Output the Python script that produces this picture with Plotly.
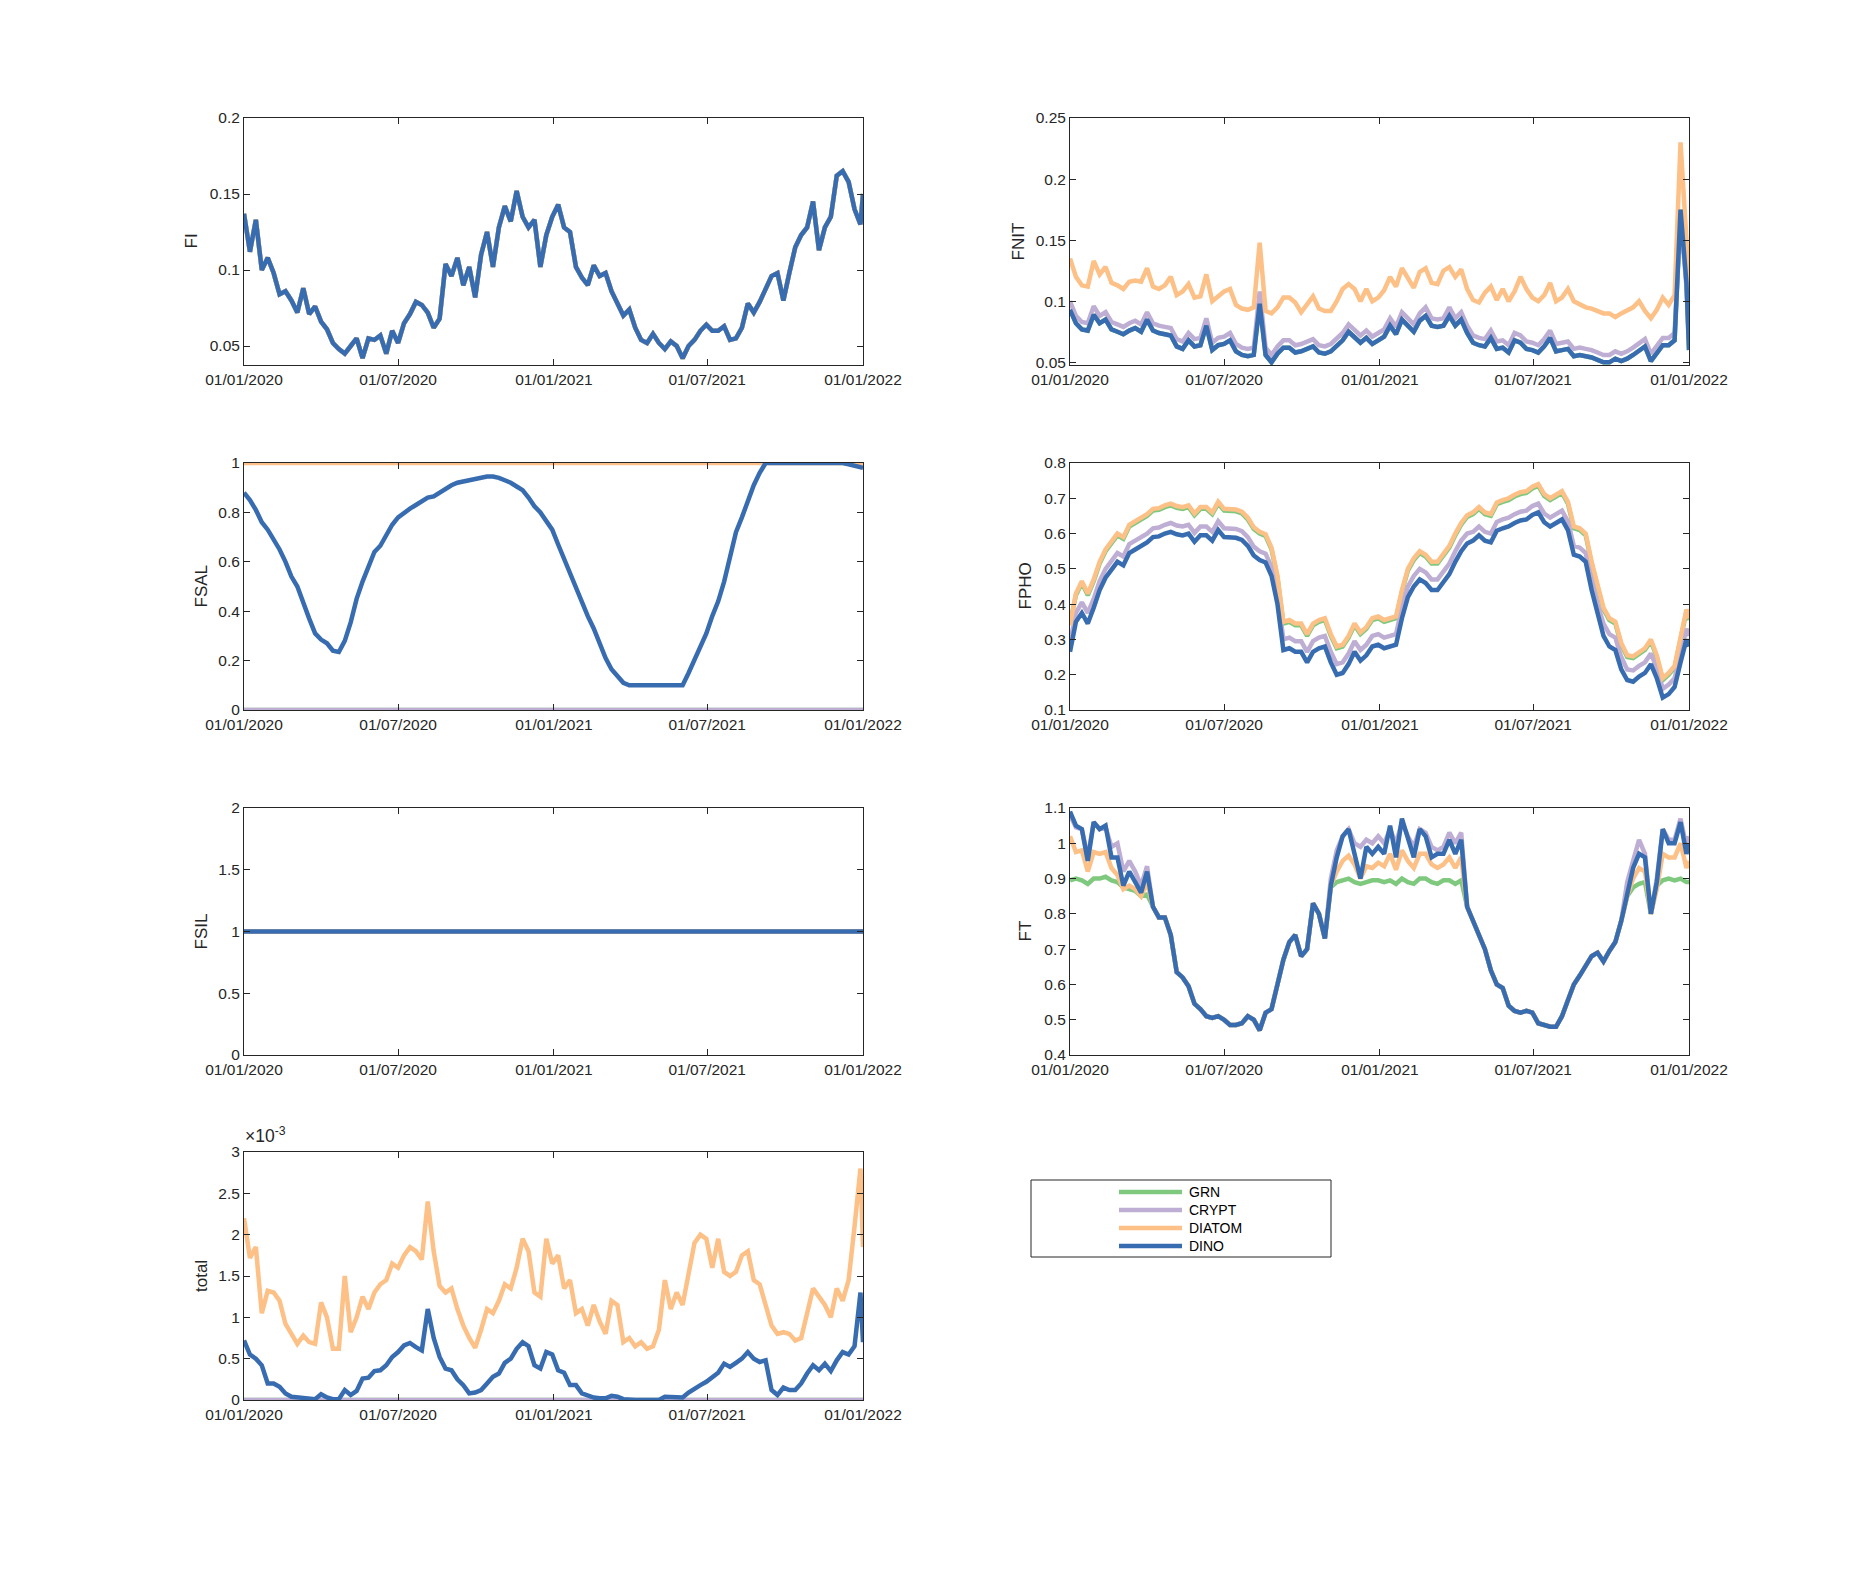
import pandas as pd
import plotly.graph_objects as go

# ---------------- data ----------------
dates = list(pd.date_range("2020-01-01", periods=105, freq="7D")) + [pd.Timestamp("2022-01-01")]

series_names = ["GRN", "CRYPT", "DIATOM", "DINO"]
series_colors = ["#7fc97f", "#beaed4", "#fdc086", "#386cb0"]

x_tick_vals = ["2020-01-01", "2020-07-01", "2021-01-01", "2021-07-01", "2022-01-01"]
x_tick_text = ["01/01/2020", "01/07/2020", "01/01/2021", "01/07/2021", "01/01/2022"]

# FI (identical for all groups; DINO drawn on top)
fi_dino = [0.137, 0.112, 0.133, 0.100, 0.108, 0.098, 0.084, 0.086, 0.080, 0.072,
           0.088, 0.071, 0.076, 0.066, 0.061, 0.052, 0.048, 0.045, 0.050, 0.055,
           0.042, 0.055, 0.054, 0.057, 0.045, 0.060, 0.052, 0.065, 0.071, 0.079,
           0.077, 0.072, 0.062, 0.068, 0.104, 0.096, 0.108, 0.090, 0.102, 0.082,
           0.110, 0.125, 0.102, 0.128, 0.142, 0.132, 0.152, 0.135, 0.128, 0.133,
           0.102, 0.123, 0.135, 0.143, 0.128, 0.125, 0.102, 0.095, 0.090, 0.103,
           0.096, 0.098, 0.086, 0.078, 0.070, 0.074, 0.062, 0.054, 0.052, 0.058,
           0.052, 0.048, 0.053, 0.050, 0.042, 0.050, 0.054, 0.060, 0.064, 0.060,
           0.060, 0.063, 0.054, 0.055, 0.062, 0.078, 0.072, 0.079, 0.088, 0.096,
           0.098, 0.080, 0.098, 0.115, 0.123, 0.128, 0.145, 0.113, 0.128, 0.135,
           0.162, 0.165, 0.158, 0.140, 0.130, 0.150]

# FNIT
fnit_diatom = [0.135, 0.120, 0.113, 0.112, 0.133, 0.122, 0.128, 0.115, 0.113, 0.110,
               0.116, 0.117, 0.116, 0.127, 0.112, 0.110, 0.113, 0.120, 0.105, 0.108,
               0.114, 0.103, 0.104, 0.122, 0.100, 0.104, 0.108, 0.110, 0.097, 0.094,
               0.093, 0.095, 0.148, 0.092, 0.090, 0.095, 0.103, 0.103, 0.099, 0.091,
               0.098, 0.104, 0.094, 0.092, 0.092, 0.100, 0.110, 0.114, 0.110, 0.100,
               0.110, 0.100, 0.103, 0.109, 0.120, 0.112, 0.127, 0.119, 0.111, 0.124,
               0.127, 0.115, 0.114, 0.125, 0.128, 0.120, 0.126, 0.110, 0.101, 0.099,
               0.107, 0.112, 0.101, 0.110, 0.100, 0.108, 0.120, 0.110, 0.103, 0.100,
               0.105, 0.115, 0.100, 0.103, 0.110, 0.100, 0.097, 0.095, 0.094, 0.092,
               0.090, 0.090, 0.087, 0.090, 0.093, 0.095, 0.100, 0.092, 0.086, 0.093,
               0.103, 0.097, 0.105, 0.230, 0.150, 0.098]
fnit_dino = [0.093, 0.082, 0.077, 0.076, 0.089, 0.082, 0.085, 0.077, 0.075, 0.073,
             0.076, 0.078, 0.075, 0.085, 0.076, 0.074, 0.073, 0.072, 0.063, 0.061,
             0.068, 0.063, 0.064, 0.080, 0.060, 0.064, 0.065, 0.068, 0.059, 0.056,
             0.055, 0.056, 0.098, 0.056, 0.050, 0.057, 0.062, 0.062, 0.058, 0.059,
             0.061, 0.063, 0.058, 0.057, 0.059, 0.063, 0.068, 0.075, 0.071, 0.066,
             0.070, 0.065, 0.068, 0.071, 0.080, 0.073, 0.085, 0.080, 0.075, 0.084,
             0.088, 0.080, 0.079, 0.080, 0.088, 0.080, 0.085, 0.074, 0.066, 0.064,
             0.063, 0.070, 0.061, 0.062, 0.058, 0.068, 0.066, 0.061, 0.060, 0.058,
             0.063, 0.070, 0.059, 0.060, 0.061, 0.055, 0.056, 0.055, 0.054, 0.052,
             0.050, 0.050, 0.053, 0.051, 0.053, 0.056, 0.060, 0.063, 0.051, 0.058,
             0.064, 0.064, 0.068, 0.175, 0.115, 0.060]
fnit_crypt = [0.100, 0.088, 0.083, 0.082, 0.096, 0.088, 0.091, 0.083, 0.081, 0.079,
              0.082, 0.084, 0.081, 0.091, 0.082, 0.080, 0.079, 0.078, 0.069, 0.067,
              0.074, 0.069, 0.070, 0.086, 0.066, 0.070, 0.071, 0.074, 0.065, 0.062,
              0.061, 0.062, 0.108, 0.062, 0.056, 0.063, 0.068, 0.068, 0.064, 0.065,
              0.067, 0.069, 0.064, 0.063, 0.065, 0.069, 0.074, 0.081, 0.077, 0.072,
              0.076, 0.071, 0.074, 0.077, 0.086, 0.079, 0.091, 0.086, 0.081, 0.090,
              0.095, 0.086, 0.085, 0.086, 0.095, 0.086, 0.091, 0.080, 0.072, 0.070,
              0.069, 0.076, 0.067, 0.068, 0.064, 0.074, 0.072, 0.067, 0.066, 0.064,
              0.069, 0.076, 0.065, 0.066, 0.067, 0.061, 0.062, 0.061, 0.060, 0.058,
              0.056, 0.056, 0.059, 0.057, 0.059, 0.062, 0.066, 0.069, 0.057, 0.064,
              0.070, 0.070, 0.074, 0.170, 0.112, 0.068]

# FSAL
fsal_grn_value = 0.0
fsal_crypt_value = 0.0
fsal_diatom_value = 1.0
fsal_dino = [0.88, 0.85, 0.81, 0.76, 0.73, 0.69, 0.65, 0.60, 0.54, 0.50,
             0.43, 0.37, 0.31, 0.285, 0.27, 0.24, 0.235, 0.28, 0.355, 0.45,
             0.52, 0.58, 0.64, 0.665, 0.71, 0.75, 0.78, 0.80, 0.815, 0.83,
             0.845, 0.86, 0.865, 0.88, 0.90, 0.91, 0.92, 0.925, 0.93, 0.935,
             0.94, 0.945, 0.945, 0.94, 0.93, 0.92, 0.905, 0.89, 0.86, 0.825,
             0.80, 0.765, 0.73, 0.67, 0.61, 0.56, 0.50, 0.44, 0.38, 0.33,
             0.27, 0.21, 0.165, 0.14, 0.11, 0.10, 0.10, 0.10, 0.10, 0.10,
             0.10, 0.10, 0.10, 0.10, 0.10, 0.15, 0.20, 0.25, 0.31, 0.38,
             0.44, 0.52, 0.62, 0.72, 0.78, 0.85, 0.91, 0.96, 1.0, 1.0,
             1.0, 1.0, 1.0, 1.0, 1.0, 1.0, 1.0, 1.0, 1.0, 1.0,
             1.0, 1.0, 0.995, 0.99, 0.985, 0.98]

# FPHO
fpho_diatom = [0.34, 0.43, 0.465, 0.43, 0.47, 0.52, 0.555, 0.58, 0.60, 0.59,
               0.625, 0.635, 0.645, 0.655, 0.67, 0.672, 0.68, 0.685, 0.678, 0.675,
               0.68, 0.657, 0.675, 0.675, 0.66, 0.69, 0.67, 0.668, 0.668, 0.662,
               0.645, 0.618, 0.605, 0.598, 0.56, 0.48, 0.35, 0.355, 0.345, 0.345,
               0.315, 0.345, 0.355, 0.36, 0.315, 0.28, 0.285, 0.31, 0.345, 0.32,
               0.335, 0.36, 0.365, 0.355, 0.36, 0.365, 0.44, 0.50, 0.53, 0.55,
               0.54, 0.52, 0.52, 0.545, 0.565, 0.60, 0.63, 0.652, 0.66, 0.675,
               0.66, 0.655, 0.688, 0.695, 0.70, 0.71, 0.717, 0.72, 0.733, 0.74,
               0.712, 0.70, 0.71, 0.72, 0.69, 0.62, 0.615, 0.60, 0.52, 0.45,
               0.39, 0.36, 0.35, 0.29, 0.255, 0.252, 0.265, 0.275, 0.30, 0.255,
               0.19, 0.205, 0.225, 0.30, 0.385, 0.36]
fpho_grn = [0.345, 0.425, 0.46, 0.425, 0.465, 0.515, 0.55, 0.575, 0.595, 0.585,
            0.62, 0.63, 0.64, 0.65, 0.665, 0.667, 0.675, 0.68, 0.673, 0.67,
            0.675, 0.652, 0.67, 0.67, 0.655, 0.685, 0.665, 0.663, 0.663, 0.657,
            0.64, 0.613, 0.60, 0.593, 0.555, 0.475, 0.345, 0.35, 0.34, 0.34,
            0.31, 0.34, 0.35, 0.355, 0.31, 0.275, 0.28, 0.305, 0.34, 0.315,
            0.33, 0.355, 0.36, 0.35, 0.355, 0.36, 0.435, 0.495, 0.525, 0.545,
            0.535, 0.515, 0.515, 0.54, 0.56, 0.595, 0.625, 0.647, 0.655, 0.67,
            0.655, 0.65, 0.683, 0.69, 0.695, 0.705, 0.712, 0.715, 0.728, 0.735,
            0.707, 0.695, 0.705, 0.715, 0.685, 0.615, 0.61, 0.595, 0.515, 0.445,
            0.385, 0.355, 0.345, 0.285, 0.25, 0.247, 0.26, 0.27, 0.295, 0.25,
            0.185, 0.20, 0.22, 0.295, 0.38, 0.355]
fpho_crypt = [0.29, 0.375, 0.405, 0.375, 0.415, 0.465, 0.50, 0.525, 0.545, 0.535,
              0.57, 0.58, 0.59, 0.60, 0.615, 0.617, 0.625, 0.63, 0.623, 0.62,
              0.625, 0.602, 0.62, 0.62, 0.605, 0.635, 0.615, 0.613, 0.613, 0.607,
              0.59, 0.563, 0.55, 0.543, 0.505, 0.43, 0.30, 0.305, 0.295, 0.295,
              0.265, 0.295, 0.305, 0.31, 0.265, 0.23, 0.235, 0.26, 0.295, 0.27,
              0.285, 0.31, 0.315, 0.305, 0.31, 0.315, 0.39, 0.45, 0.48, 0.50,
              0.49, 0.47, 0.47, 0.495, 0.515, 0.55, 0.58, 0.60, 0.605, 0.62,
              0.605, 0.60, 0.633, 0.64, 0.645, 0.655, 0.662, 0.665, 0.678, 0.685,
              0.657, 0.645, 0.655, 0.665, 0.635, 0.565, 0.56, 0.545, 0.47, 0.40,
              0.345, 0.315, 0.305, 0.25, 0.215, 0.212, 0.225, 0.235, 0.26, 0.22,
              0.16, 0.172, 0.19, 0.26, 0.33, 0.31]
fpho_dino = [0.265, 0.35, 0.375, 0.345, 0.39, 0.44, 0.475, 0.50, 0.52, 0.51,
             0.545, 0.555, 0.565, 0.575, 0.59, 0.592, 0.60, 0.605, 0.598, 0.595,
             0.60, 0.577, 0.595, 0.595, 0.58, 0.61, 0.59, 0.588, 0.588, 0.582,
             0.565, 0.538, 0.525, 0.518, 0.48, 0.40, 0.27, 0.275, 0.265, 0.265,
             0.235, 0.265, 0.275, 0.28, 0.235, 0.20, 0.205, 0.23, 0.265, 0.24,
             0.255, 0.28, 0.285, 0.275, 0.28, 0.285, 0.36, 0.42, 0.45, 0.47,
             0.46, 0.44, 0.44, 0.465, 0.485, 0.52, 0.55, 0.572, 0.58, 0.595,
             0.58, 0.575, 0.608, 0.615, 0.62, 0.63, 0.637, 0.64, 0.653, 0.66,
             0.632, 0.62, 0.63, 0.64, 0.61, 0.54, 0.535, 0.52, 0.44, 0.37,
             0.31, 0.28, 0.27, 0.215, 0.185, 0.18, 0.195, 0.205, 0.23, 0.19,
             0.135, 0.145, 0.165, 0.235, 0.30, 0.28]

# FSIL (all groups equal to 1)
fsil_value = 1.0

# FT
ft_dino = [1.09, 1.05, 1.04, 0.95, 1.06, 1.04, 1.05, 0.96, 0.96, 0.88,
           0.92, 0.89, 0.86, 0.92, 0.82, 0.79, 0.79, 0.74, 0.635, 0.62,
           0.595, 0.545, 0.53, 0.51, 0.505, 0.51, 0.50, 0.485, 0.485, 0.49,
           0.51, 0.50, 0.47, 0.52, 0.53, 0.60, 0.67, 0.72, 0.74, 0.68,
           0.70, 0.83, 0.80, 0.73, 0.88, 0.96, 1.02, 1.04, 0.97, 0.90,
           0.99, 0.97, 0.99, 0.97, 1.05, 0.96, 1.07, 1.01, 0.96, 1.04,
           1.02, 0.96, 0.97, 0.97, 1.01, 0.97, 1.01, 0.82, 0.78, 0.74,
           0.70, 0.64, 0.60, 0.59, 0.54, 0.525, 0.52, 0.525, 0.52, 0.49,
           0.485, 0.48, 0.48, 0.51, 0.555, 0.60, 0.625, 0.65, 0.68, 0.69,
           0.665, 0.695, 0.72, 0.78, 0.85, 0.93, 0.97, 0.96, 0.80, 0.89,
           1.04, 1.00, 1.00, 1.06, 0.97, 1.00]
ft_diatom = [1.02, 0.975, 0.98, 0.92, 0.975, 0.97, 0.975, 0.93, 0.91, 0.87,
             0.88, 0.87, 0.85, 0.89, 0.82, 0.79, 0.79, 0.74, 0.635, 0.62,
             0.595, 0.545, 0.53, 0.51, 0.505, 0.51, 0.50, 0.485, 0.485, 0.49,
             0.51, 0.50, 0.47, 0.52, 0.53, 0.60, 0.67, 0.72, 0.74, 0.68,
             0.70, 0.83, 0.80, 0.73, 0.88, 0.92, 0.95, 0.965, 0.94, 0.90,
             0.935, 0.93, 0.945, 0.935, 0.97, 0.925, 0.98, 0.95, 0.93, 0.97,
             0.97, 0.94, 0.93, 0.94, 0.96, 0.93, 0.96, 0.82, 0.78, 0.74,
             0.70, 0.64, 0.60, 0.59, 0.54, 0.525, 0.52, 0.525, 0.52, 0.49,
             0.485, 0.48, 0.48, 0.51, 0.555, 0.60, 0.625, 0.65, 0.68, 0.69,
             0.665, 0.695, 0.72, 0.78, 0.85, 0.90, 0.93, 0.92, 0.80, 0.87,
             0.97, 0.96, 0.96, 1.00, 0.93, 0.95]
ft_crypt = [1.08, 1.045, 1.04, 0.96, 1.06, 1.04, 1.045, 0.99, 1.0, 0.92,
            0.95, 0.92, 0.88, 0.935, 0.82, 0.79, 0.79, 0.74, 0.635, 0.62,
            0.595, 0.545, 0.53, 0.51, 0.505, 0.51, 0.50, 0.485, 0.485, 0.49,
            0.51, 0.50, 0.47, 0.52, 0.53, 0.60, 0.67, 0.72, 0.74, 0.68,
            0.70, 0.83, 0.80, 0.73, 0.90, 0.98, 1.02, 1.04, 1.0, 0.99,
            1.01, 1.0, 1.02, 1.0, 1.04, 1.0, 1.06, 1.02, 0.99, 1.04,
            1.03, 0.99, 0.98, 0.99, 1.03, 1.0, 1.03, 0.82, 0.78, 0.74,
            0.70, 0.64, 0.60, 0.59, 0.54, 0.525, 0.52, 0.525, 0.52, 0.49,
            0.485, 0.48, 0.48, 0.51, 0.555, 0.60, 0.625, 0.65, 0.68, 0.69,
            0.665, 0.695, 0.72, 0.78, 0.89, 0.95, 1.01, 0.97, 0.80, 0.90,
            1.04, 1.01, 1.01, 1.07, 0.99, 1.02]
ft_grn = [0.895, 0.90, 0.895, 0.885, 0.90, 0.90, 0.905, 0.895, 0.89, 0.875,
          0.87, 0.865, 0.85, 0.855, 0.82, 0.79, 0.79, 0.74, 0.635, 0.62,
          0.595, 0.545, 0.53, 0.51, 0.505, 0.51, 0.50, 0.485, 0.485, 0.49,
          0.51, 0.50, 0.47, 0.52, 0.53, 0.60, 0.67, 0.72, 0.74, 0.68,
          0.70, 0.83, 0.80, 0.73, 0.875, 0.89, 0.895, 0.90, 0.89, 0.885,
          0.89, 0.895, 0.895, 0.89, 0.895, 0.885, 0.90, 0.89, 0.885, 0.90,
          0.90, 0.89, 0.885, 0.895, 0.895, 0.885, 0.895, 0.82, 0.78, 0.74,
          0.70, 0.64, 0.60, 0.59, 0.54, 0.525, 0.52, 0.525, 0.52, 0.49,
          0.485, 0.48, 0.48, 0.51, 0.555, 0.60, 0.625, 0.65, 0.68, 0.69,
          0.665, 0.695, 0.72, 0.78, 0.85, 0.875, 0.885, 0.89, 0.80, 0.88,
          0.895, 0.90, 0.895, 0.90, 0.89, 0.89]

# total (values in units of 1e-3)
total_diatom_e3 = [2.2, 1.72, 1.85, 1.05, 1.32, 1.3, 1.2, 0.92, 0.80, 0.68,
                   0.78, 0.70, 0.68, 1.18, 1.0, 0.62, 0.62, 1.5, 0.82, 1.0,
                   1.25, 1.1, 1.3, 1.4, 1.45, 1.65, 1.6, 1.75, 1.85, 1.8,
                   1.7, 2.4, 1.8, 1.38, 1.3, 1.35, 1.1, 0.9, 0.75, 0.63,
                   0.85, 1.1, 1.05, 1.2, 1.4, 1.35, 1.6, 1.95, 1.8, 1.3,
                   1.25, 1.95, 1.65, 1.75, 1.35, 1.45, 1.05, 1.1, 0.9, 1.15,
                   0.95, 0.8, 1.2, 1.15, 0.7, 0.75, 0.65, 0.70, 0.62, 0.65,
                   0.85, 1.45, 1.1, 1.3, 1.15, 1.5, 1.9, 2.0, 1.95, 1.6,
                   1.95, 1.55, 1.5, 1.55, 1.75, 1.8, 1.45, 1.4, 1.15, 0.9,
                   0.8, 0.82, 0.8, 0.72, 0.75, 1.05, 1.35, 1.25, 1.15, 1.0,
                   1.35, 1.2, 1.45, 2.1, 2.8, 1.85]
total_dino_e3 = [0.72, 0.55, 0.50, 0.42, 0.20, 0.20, 0.16, 0.08, 0.04, 0.03,
                 0.02, 0.02, 0.01, 0.07, 0.03, 0.01, 0.01, 0.12, 0.06, 0.11,
                 0.26, 0.27, 0.35, 0.36, 0.42, 0.52, 0.58, 0.66, 0.69, 0.64,
                 0.60, 1.1, 0.75, 0.52, 0.38, 0.36, 0.25, 0.18, 0.08, 0.09,
                 0.12, 0.2, 0.28, 0.32, 0.45, 0.5, 0.62, 0.7, 0.65, 0.42,
                 0.38, 0.58, 0.55, 0.36, 0.33, 0.18, 0.18, 0.08, 0.05, 0.03,
                 0.02, 0.02, 0.05, 0.04, 0.01, 0.0, 0.0, 0.0, 0.0, 0.0,
                 0.0, 0.04, 0.04, 0.03, 0.03, 0.09, 0.14, 0.18, 0.22, 0.27,
                 0.33, 0.44, 0.40, 0.45, 0.5, 0.58, 0.5, 0.46, 0.48, 0.12,
                 0.06, 0.15, 0.12, 0.12, 0.2, 0.32, 0.42, 0.36, 0.44, 0.35,
                 0.48, 0.58, 0.55, 0.65, 1.3, 0.7]
total_grn_value = 0.0
total_crypt_value = 0.0

# y-axis ticks per panel
fi_ticks = [0.05, 0.1, 0.15, 0.2]
fnit_ticks = [0.05, 0.1, 0.15, 0.2, 0.25]
fsal_ticks = [0, 0.2, 0.4, 0.6, 0.8, 1]
fpho_ticks = [0.1, 0.2, 0.3, 0.4, 0.5, 0.6, 0.7, 0.8]
fsil_ticks = [0, 0.5, 1, 1.5, 2]
ft_ticks = [0.4, 0.5, 0.6, 0.7, 0.8, 0.9, 1, 1.1]
total_ticks = [0, 0.5, 1, 1.5, 2, 2.5, 3]

N = len(dates)
const = lambda v: [v] * N

panels = [
    dict(label="FI", col=0, row=0, yrange=[0.0375, 0.2], ticks=fi_ticks, title_x=191,
         series=[fi_dino, fi_dino, fi_dino, fi_dino]),
    dict(label="FNIT", col=1, row=0, yrange=[0.0478, 0.25], ticks=fnit_ticks, title_x=1018,
         series=[fnit_dino, fnit_crypt, fnit_diatom, fnit_dino]),
    dict(label="FSAL", col=0, row=1, yrange=[0, 1], ticks=fsal_ticks, title_x=201,
         series=[const(fsal_grn_value), const(fsal_crypt_value), const(fsal_diatom_value), fsal_dino]),
    dict(label="FPHO", col=1, row=1, yrange=[0.1, 0.8], ticks=fpho_ticks, title_x=1025,
         series=[fpho_grn, fpho_crypt, fpho_diatom, fpho_dino]),
    dict(label="FSIL", col=0, row=2, yrange=[0, 2], ticks=fsil_ticks, title_x=201,
         series=[const(fsil_value)] * 4),
    dict(label="FT", col=1, row=2, yrange=[0.4, 1.1], ticks=ft_ticks, title_x=1025,
         series=[ft_grn, ft_crypt, ft_diatom, ft_dino]),
    dict(label="total", col=0, row=3, yrange=[0, 3], ticks=total_ticks, title_x=201,
         series=[const(total_grn_value), const(total_crypt_value), total_diatom_e3, total_dino_e3]),
]

# ---------------- layout geometry ----------------
W, H = 1875, 1573
col_px = [(244, 863), (1070, 1689)]
row_px = [(118, 365), (463, 710), (808, 1055), (1152, 1400)]

AX_COLOR = "#262626"
FONT = "Liberation Sans, Arial, Helvetica, sans-serif"
TICK_SIZE = 15.5

fig = go.Figure()
layout = dict(
    width=W, height=H,
    margin=dict(l=0, r=0, t=0, b=0, autoexpand=False),
    paper_bgcolor="white", plot_bgcolor="white",
    showlegend=False,
    font=dict(family=FONT, size=TICK_SIZE, color=AX_COLOR),
)

for i, p in enumerate(panels):
    idx = i + 1
    xa = "x" if idx == 1 else f"x{idx}"
    ya = "y" if idx == 1 else f"y{idx}"
    for name, color, ys in zip(series_names, series_colors, p["series"]):
        fig.add_trace(go.Scatter(
            x=dates, y=ys, mode="lines", name=name,
            line=dict(color=color, width=4.5),
            xaxis=xa, yaxis=ya, showlegend=False,
        ))
    x0, x1 = col_px[p["col"]]
    yt, yb = row_px[p["row"]]
    common = dict(showline=True, linecolor=AX_COLOR, linewidth=1, mirror="ticks",
                  ticks="inside", ticklen=6, tickwidth=1, tickcolor=AX_COLOR,
                  showgrid=False, zeroline=False, automargin=False,
                  tickfont=dict(family=FONT, size=TICK_SIZE, color=AX_COLOR))
    layout[f"xaxis{'' if idx == 1 else idx}"] = dict(
        domain=[x0 / W, x1 / W], anchor=ya,
        range=["2020-01-01", "2022-01-01"], type="date",
        tickvals=x_tick_vals, ticktext=x_tick_text, **common)
    layout[f"yaxis{'' if idx == 1 else idx}"] = dict(
        domain=[1 - yb / H, 1 - yt / H], anchor=xa,
        range=p["yrange"], tickvals=p["ticks"], ticktext=[f"{t:g}" for t in p["ticks"]],
        **common)

fig.update_layout(**layout)

# y-axis labels
for p in panels:
    yt, yb = row_px[p["row"]]
    fig.add_annotation(x=p["title_x"] / W, y=1 - (yt + yb) / 2 / H, xref="paper", yref="paper",
                       xanchor="center", yanchor="middle", showarrow=False, textangle=-90,
                       text=p["label"], font=dict(family=FONT, size=17, color=AX_COLOR))

# exponent label for the 'total' panel
fig.add_annotation(x=243 / W, y=1 - 1148 / H, xref="paper", yref="paper",
                   xanchor="left", yanchor="bottom", showarrow=False,
                   text="×10<sup>-3</sup>", font=dict(family=FONT, size=17.5, color=AX_COLOR))

# legend box drawn as shapes + text
lx0, lx1, ly0, ly1 = 1031, 1331, 1180, 1257
fig.add_shape(type="rect", xref="paper", yref="paper",
              x0=lx0 / W, x1=lx1 / W, y0=1 - ly1 / H, y1=1 - ly0 / H,
              line=dict(color=AX_COLOR, width=1), fillcolor="white")
row_y = [1192, 1210, 1228, 1246]
for name, color, ry in zip(series_names, series_colors, row_y):
    fig.add_shape(type="line", xref="paper", yref="paper",
                  x0=1119 / W, x1=1182 / W, y0=1 - ry / H, y1=1 - ry / H,
                  line=dict(color=color, width=4.5))
    fig.add_annotation(x=1187 / W, y=1 - ry / H, xref="paper", yref="paper",
                       xanchor="left", yanchor="middle", showarrow=False,
                       text=name, font=dict(family=FONT, size=14, color="black"))

# remove the browser's default 8px page margin so the figure fills the window exactly
fig.write_html("out.html", config={"displayModeBar": False},
               post_script="document.body.style.margin='0';")
